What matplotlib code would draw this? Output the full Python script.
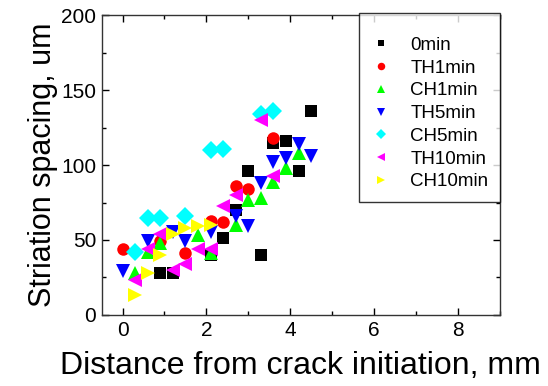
import matplotlib.pyplot as plt
from matplotlib.ticker import MultipleLocator

plt.rcParams['font.family'] = ['Liberation Sans', 'DejaVu Sans']

# distance from crack initiation (mm) and striation spacing (um)
x_0min = [0.9, 1.2, 2.1, 2.4, 2.7, 3.0, 3.3, 3.6, 3.9, 4.2, 4.5]
y_0min = [28, 28, 40, 51, 70, 96, 40, 115, 116, 96, 136]

x_th1 = [0.0, 0.9, 1.5, 2.1, 2.4, 2.7, 3.0, 3.6]
y_th1 = [44, 49, 41, 63, 62, 86, 84, 118]

x_ch1 = [0.3, 0.6, 0.9, 1.8, 2.1, 2.7, 3.0, 3.3, 3.6, 3.9, 4.2]
y_ch1 = [28, 42, 48, 53, 41, 60, 77, 78, 89, 98, 108]

x_th5 = [0.0, 0.6, 1.2, 1.5, 2.1, 2.7, 3.0, 3.3, 3.6, 3.9, 4.2, 4.5]
y_th5 = [29, 49, 55, 49, 55, 66, 59, 88, 102, 105, 114, 106]

x_ch5 = [0.3, 0.6, 0.9, 1.5, 2.1, 2.4, 3.3, 3.6]
y_ch5 = [42, 65, 65, 66, 110, 111, 134, 136]

x_th10 = [0.3, 0.6, 0.9, 1.2, 1.5, 1.8, 2.1, 2.4, 2.7, 3.3, 3.6]
y_th10 = [23, 44, 54, 30, 34, 44, 44, 73, 80, 130, 93]

x_ch10 = [0.3, 0.6, 0.9, 1.2, 1.5, 1.8, 2.1]
y_ch10 = [13, 28, 40, 54, 58, 59, 60]

labels = ['0min', 'TH1min', 'CH1min', 'TH5min', 'CH5min', 'TH10min', 'CH10min']
colors = ['black', 'red', '#00ff00', '#0000ff', '#00ffff', '#ff00ff', '#ffff00']
markers = ['s', 'o', '^', 'v', 'D', '<', '>']
sizes = [8, 9, 10, 10, 9, 10, 10]

xs = [x_0min, x_th1, x_ch1, x_th5, x_ch5, x_th10, x_ch10]
ys = [y_0min, y_th1, y_ch1, y_th5, y_ch5, y_th10, y_ch10]

fig = plt.figure(figsize=(5.48, 3.86), dpi=100)
ax = fig.add_axes([0.1854, 0.184, 0.7266, 0.777])

for x, y, lab, c, m, s in zip(xs, ys, labels, colors, markers, sizes):
    ax.plot(x, y, linestyle='none', marker=m, color=c, ms=s, mew=0, label=lab)

ax.set_xlim(-0.5, 9)
ax.set_ylim(0, 200)
ax.xaxis.set_major_locator(MultipleLocator(2))
ax.xaxis.set_minor_locator(MultipleLocator(1))
ax.yaxis.set_major_locator(MultipleLocator(50))
ax.yaxis.set_minor_locator(MultipleLocator(25))
ax.tick_params(which='both', direction='in', top=True, right=True, labelsize=15, width=1)
ax.tick_params(which='major', length=5, pad=4)
ax.tick_params(which='minor', length=3)
for sp in ax.spines.values():
    sp.set_linewidth(1)
    sp.set_color('#333333')

ax.set_xlabel('Distance from crack initiation, mm', fontsize=23, labelpad=8)
ax.set_ylabel('Striation spacing, um', fontsize=22, labelpad=2)

leg = ax.legend(loc='upper right', bbox_to_anchor=(1.0, 1.007), borderaxespad=0,
                fontsize=13.5, markerscale=0.6, fancybox=False, frameon=True,
                handlelength=1.2, handletextpad=0.95, labelspacing=0.3,
                borderpad=0.6, title=' ', title_fontsize=6)
leg.get_frame().set_edgecolor('black')
leg.get_frame().set_linewidth(1)

fig.savefig('out.png', dpi=100)
